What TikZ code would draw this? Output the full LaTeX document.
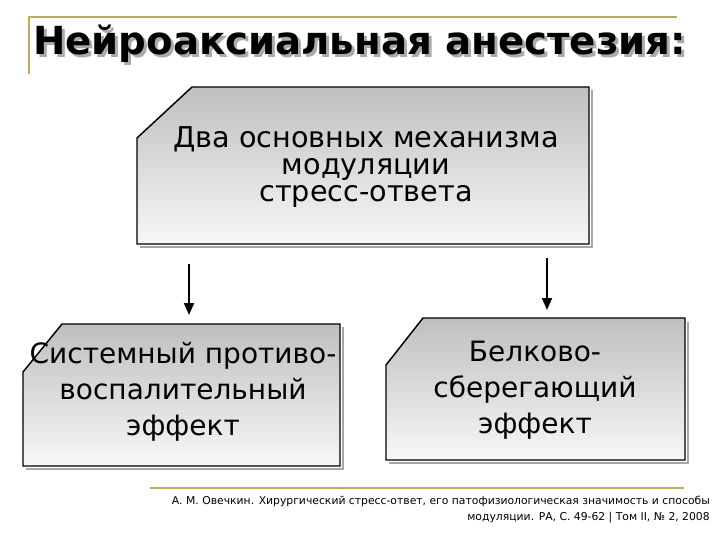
\documentclass[tikz,border=0pt]{standalone}
\usepackage{fontspec}
\setmainfont{DejaVu Sans}
\usetikzlibrary{arrows.meta}
\definecolor{gold}{RGB}{190,172,90}
\definecolor{shadowgray}{RGB}{170,170,170}
\begin{document}
\begin{tikzpicture}[x=0.75pt,y=-0.75pt,
  boxshape/.style={draw=black, line width=1.1pt, top color=black!25, bottom color=black!3},
  boxshadow/.style={draw=black!35, line width=1.1pt},
  boxtext/.style={align=center, font=\fontsize{21}{27}\selectfont, inner sep=0pt},
  toptext/.style={align=center, font=\fontsize{21.5}{20.5}\selectfont, inner sep=0pt},
  arr/.style={line width=1.5pt, -{Triangle[length=9pt,width=7.5pt]}},
  goldline/.style={draw=gold, line width=1.4pt}]
\useasboundingbox (0,0) rectangle (720,540);
% title frame lines
\coordinate (tl) at (29,17);
\coordinate (tr) at (677,17);
\coordinate (tb) at (29,74);
\draw[goldline] (tb) -- (tl) -- (tr);
% title with shadow
\node[anchor=west, text=shadowgray, font=\bfseries\fontsize{29}{34}\selectfont, inner sep=0pt] at (36,47) {Нейроаксиальная анестезия:};
\node[anchor=west, font=\bfseries\fontsize{29}{34}\selectfont, inner sep=0pt] (title) at (33,44) {Нейроаксиальная анестезия:};
% top box
\draw[boxshadow] (592,90) -- (592,247) -- (140,247);
\path[boxshape] (192,87) -- (589,87) -- (589,244) -- (137,244) -- (137,138) -- cycle;
\node[toptext] (top) at (366,167) {Два основных механизма\\модуляции\\стресс-ответа};
% left box
\draw[boxshadow] (343,327) -- (343,469) -- (26,469);
\path[boxshape] (62,324) -- (340,324) -- (340,466) -- (23,466) -- (23,372) -- cycle;
\node[boxtext] (left) at (183,392) {Системный противо-\\воспалительный\\эффект};
% right box
\draw[boxshadow] (688,322) -- (688,463) -- (389,463);
\path[boxshape] (423,318) -- (685,318) -- (685,460) -- (386,460) -- (386,365) -- cycle;
\node[boxtext] (right) at (535,390) {Белково-\\сберегающий\\эффект};
% arrows
\coordinate (a1s) at (189,264);
\coordinate (a1e) at (189,315);
\coordinate (a2s) at (547,258);
\coordinate (a2e) at (547,310);
\draw[arr] (a1s) -- (a1e);
\draw[arr] (a2s) -- (a2e);
% bottom line and citation
\coordinate (bl) at (150,488);
\coordinate (br) at (684,488);
\draw[goldline] (bl) -- (br);
\node[anchor=north east, align=right, font=\fontsize{8.1}{12}\selectfont, inner sep=0pt] (cite) at (710,496)
  {А. М. Овечкин. Хирургический стресс-ответ, его патофизиологическая значимость и способы\\модуляции. РА, С. 49-62 | Том II, № 2, 2008};
\end{tikzpicture}
\end{document}
